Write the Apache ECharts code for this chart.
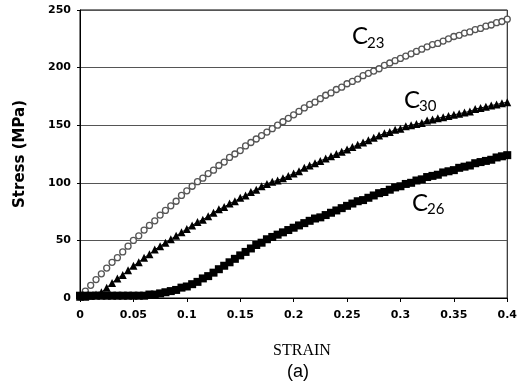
<!DOCTYPE html>
<html>
<head>
<meta charset="utf-8">
<script src="https://cdn.jsdelivr.net/npm/echarts@6/dist/echarts.min.js"></script>
<style>
html,body{margin:0;padding:0;background:#fff;}
#chart{width:520px;height:385px;}
</style>
</head>
<body>
<div id="chart"></div>
<script>
const strain = [0,0.005,0.01,0.015,0.02,0.025,0.03,0.035,0.04,0.045,
0.05,0.055,0.06,0.065,0.07,0.075,0.08,0.085,0.09,0.095,
0.1,0.105,0.11,0.115,0.12,0.125,0.13,0.135,0.14,0.145,
0.15,0.155,0.16,0.165,0.17,0.175,0.18,0.185,0.19,0.195,
0.2,0.205,0.21,0.215,0.22,0.225,0.23,0.235,0.24,0.245,
0.25,0.255,0.26,0.265,0.27,0.275,0.28,0.285,0.29,0.295,
0.3,0.305,0.31,0.315,0.32,0.325,0.33,0.335,0.34,0.345,
0.35,0.355,0.36,0.365,0.37,0.375,0.38,0.385,0.39,0.395,0.4];

const c23 = [1,6,11,16,21,26,31,35,40,45,
50,54,59,63,67,72,76,80,84,89,
93,97,101,104,108,111,115,118,122,125,
128,132,135,138,141,144,147,150,153,156,
159,162,165,168,170,173,176,178,181,183,
186,188,190,193,195,197,199,202,204,206,
208,210,212,214,216,218,220,221,223,225,
227,228,230,231,233,234,236,237,239,240,242];

const c30 = [1,1,2,3,5,9,13,17,20,24,
28,31,35,38,42,45,48,51,54,57,
60,63,66,68,71,74,77,79,82,84,
87,89,92,94,97,99,101,102,104,106,
108,110,113,115,117,119,121,123,125,127,
129,131,133,135,137,139,141,143,144,146,
147,149,150,151,152,154,155,156,157,158,
159,160,161,162,164,165,166,167,168,169,170];

const c26 = [2,2,2,2,2,2,2,2,2,2,
2,2,2,3,3,4,5,6,7,9,
10,12,14,17,19,22,25,28,31,34,
37,40,43,46,48,51,53,55,57,59,
61,63,65,67,69,70,72,74,76,78,
80,82,84,85,87,89,91,92,94,96,
97,99,100,102,103,105,106,107,109,110,
111,113,114,115,117,118,119,120,122,123,124];

const yTicks = [0,50,100,150,200,250];
const xTicks = [0,0.05,0.1,0.15,0.2,0.25,0.3,0.35,0.4];

function pairs(ys){ return strain.map((x,i)=>[x, ys[i]]); }

const chart = echarts.init(document.getElementById('chart'), null, {renderer:'canvas'});
const labelFont = {fontFamily:'DejaVu Sans', fontWeight:'bold', fontSize:11, color:'#000'};

chart.setOption({
  animation:false,
  backgroundColor:'#fff',
  grid:{left:80, right:8, top:10, bottom:87, show:true, borderColor:'#000', borderWidth:1, backgroundColor:'transparent'},
  xAxis:{
    type:'value', min:0, max:0.4, interval:0.05,
    axisLine:{show:true, lineStyle:{color:'#000', width:1}},
    axisTick:{show:true, length:4, lineStyle:{color:'#000'}},
    axisLabel:Object.assign({margin:12, formatter:v=>String(+v.toFixed(2))}, labelFont),
    splitLine:{show:false}
  },
  yAxis:{
    type:'value', min:0, max:250, interval:50,
    name:'Stress (MPa)', nameLocation:'middle', nameGap:52, nameRotate:90,
    nameTextStyle:{fontFamily:'DejaVu Sans', fontWeight:'bold', fontSize:15, color:'#000'},
    axisLine:{show:true, lineStyle:{color:'#000', width:1}},
    axisTick:{show:true, length:3, lineStyle:{color:'#000'}},
    axisLabel:Object.assign({margin:9}, labelFont),
    splitLine:{show:true, lineStyle:{color:'#555', width:1}}
  },
  series:[
    {type:'line', name:'C23', data:pairs(c23), symbol:'circle', symbolSize:6,
     itemStyle:{color:'#fff', borderColor:'#555', borderWidth:1.3},
     lineStyle:{color:'#888', width:1}, z:3},
    {type:'line', name:'C30', data:pairs(c30), symbol:'triangle', symbolSize:8,
     itemStyle:{color:'#000'}, lineStyle:{color:'#000', width:1}, z:4},
    {type:'line', name:'C26', data:pairs(c26), symbol:'rect', symbolSize:8,
     itemStyle:{color:'#000'}, lineStyle:{color:'#000', width:1}, z:5}
  ],
  graphic:[
    {type:'text', style:{text:'STRAIN', x:302, y:351, font:'16px "Liberation Serif"', fill:'#000', align:'center', verticalAlign:'middle'}},
    {type:'text', style:{text:'C', x:352, y:48, font:'24px Lato', fill:'#000', verticalAlign:'bottom'}},
    {type:'text', style:{text:'23', x:367, y:51, font:'15px Lato', fill:'#000', verticalAlign:'bottom'}},
    {type:'text', style:{text:'C', x:404, y:112, font:'24px Lato', fill:'#000', verticalAlign:'bottom'}},
    {type:'text', style:{text:'30', x:419, y:114, font:'15px Lato', fill:'#000', verticalAlign:'bottom'}},
    {type:'text', style:{text:'C', x:412, y:215, font:'24px Lato', fill:'#000', verticalAlign:'bottom'}},
    {type:'text', style:{text:'26', x:427, y:217, font:'15px Lato', fill:'#000', verticalAlign:'bottom'}},
    {type:'text', style:{text:'(a)', x:298, y:372, font:'18px "Liberation Sans"', fill:'#000', align:'center', verticalAlign:'middle'}}
  ]
});
</script>
</body>
</html>
